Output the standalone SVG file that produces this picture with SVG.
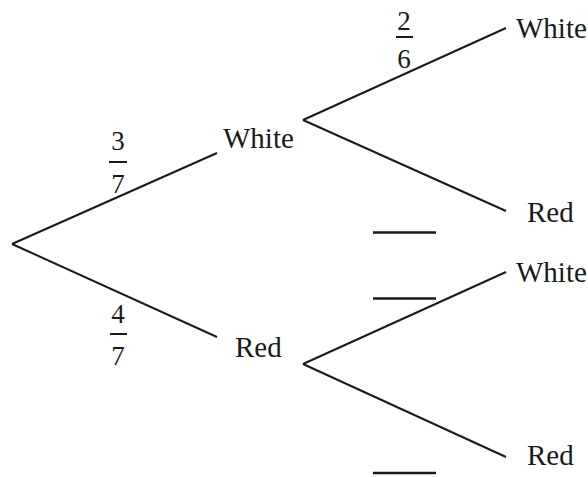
<svg xmlns="http://www.w3.org/2000/svg" width="588" height="477" viewBox="0 0 588 477">
<style>
.e{stroke:#1a1a1a;stroke-width:2;fill:none;stroke-linecap:butt}
.b{stroke:#1a1a1a;stroke-width:2.5;fill:none}
text{font-family:"Liberation Serif","Times New Roman",serif;font-size:29px;fill:#1a1a1a}
.m{text-anchor:middle;font-size:27px}
</style>
<rect width="588" height="477" fill="#fff"/>
<g id="connectors">
<line class="e" x1="12" y1="244" x2="217" y2="153"/>
<line class="e" x1="12" y1="244" x2="217" y2="337"/>
<line class="e" x1="303" y1="120" x2="506" y2="28"/>
<line class="e" x1="303" y1="120" x2="506" y2="211"/>
<line class="e" x1="303" y1="364" x2="506" y2="272"/>
<line class="e" x1="303" y1="364" x2="506" y2="457"/>
</g>
<g id="n-white1"><text x="223" y="148">White</text></g>
<g id="n-red1"><text x="235" y="357">Red</text></g>
<g id="n-white-white"><text x="516" y="38">White</text></g>
<g id="n-white-red"><text x="527" y="222">Red</text></g>
<g id="n-red-white"><text x="516" y="282">White</text></g>
<g id="n-red-red"><text x="527" y="465">Red</text></g>
<g id="frac-3-7"><text class="m" x="118" y="150">3</text><line class="e" x1="109" y1="162" x2="127" y2="162"/><text class="m" x="118" y="193">7</text></g>
<g id="frac-4-7"><text class="m" x="118" y="323">4</text><line class="e" x1="110" y1="334" x2="127" y2="334"/><text class="m" x="118" y="365">7</text></g>
<g id="frac-2-6"><text class="m" x="404" y="30">2</text><line class="e" x1="396" y1="37" x2="413" y2="37"/><text class="m" x="404" y="68">6</text></g>
<g id="blanks">
<line class="b" x1="373" y1="232.5" x2="436" y2="232.5"/>
<line class="b" x1="373" y1="298.5" x2="436" y2="298.5"/>
<line class="b" x1="373" y1="473" x2="436" y2="473"/>
</g>
</svg>
